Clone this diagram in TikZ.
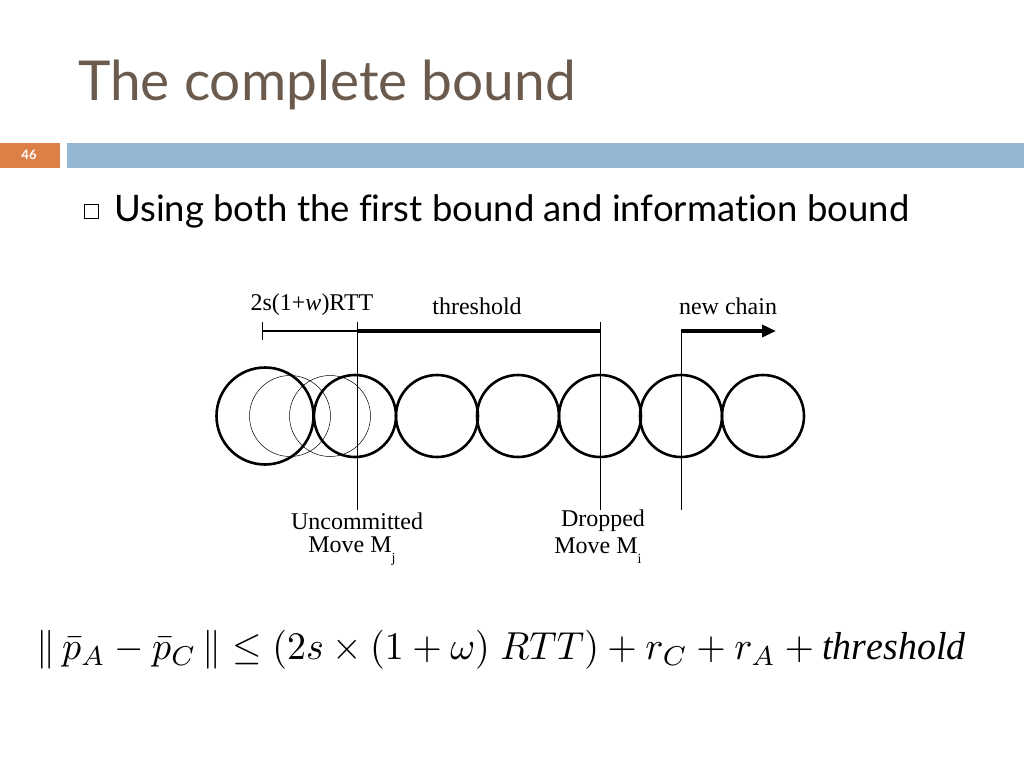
\documentclass[tikz,border=0pt]{standalone}
\usepackage{fontspec}
\setmainfont{Liberation Serif}
\newfontfamily\slidefont[Ligatures=NoCommon]{Lato}
\usetikzlibrary{arrows.meta}
\definecolor{titlec}{HTML}{6B5B4E}
\definecolor{barblue}{HTML}{94B6D2}
\definecolor{barorange}{HTML}{DD8047}
\tikzset{
  thick circ/.style={draw,line width=2.6pt,circle,minimum size=82pt,inner sep=0pt},
  thin circ/.style={draw,line width=0.5pt,circle,minimum size=81pt,inner sep=0pt},
  vline/.style={line width=0.6pt},
  lbl/.style={font=\fontsize{24}{28}\selectfont,inner sep=0pt},
}
\begin{document}
\begin{tikzpicture}[x=1pt,y=-1pt]
\useasboundingbox (0,0) rectangle (1024,768);
\node[anchor=west,text=titlec,font=\slidefont\fontsize{55}{60}\selectfont,inner sep=0pt] (title) at (78,85) {The complete bound};
\fill[barorange] (0,143) rectangle (60,168);
\node[text=white,font=\slidefont\bfseries\fontsize{13}{14}\selectfont] (num) at (29,155) {46};
\fill[barblue] (67,143) rectangle (1024,168);
\draw[line width=0.8pt] (84,204) rectangle (98,218);
\node[anchor=west,font=\slidefont\fontsize{36.5}{40}\selectfont,inner sep=0pt] (bul) at (114,211) {Using both the first bound and information bound};
% circles
\node[draw,line width=2.6pt,circle,minimum size=97pt,inner sep=0pt] (c0) at (265,416) {};
\node[thin circ] (t1) at (290,416) {};
\node[thin circ] (t2) at (330,416) {};
\foreach \i/\x in {1/355,2/437,3/518,4/600,5/681,6/763}
  \node[thick circ] (c\i) at (\x,416) {};
% lines
\coordinate (l0) at (262,322); \coordinate (l0b) at (262,340);
\coordinate (a) at (357,322); \coordinate (ab) at (357,510);
\coordinate (b) at (600,322); \coordinate (bb) at (600,510);
\coordinate (c) at (681,331); \coordinate (cb) at (681,510);
\coordinate (e) at (776,331);
\draw[vline] (l0) -- (l0b);
\draw[vline] (a) -- (ab);
\draw[vline] (b) -- (bb);
\draw[vline] (c) -- (cb);
\draw[line width=2.2pt] (262,331) -- (357,331);
\draw[line width=3.5pt] (357,331) -- (600,331);
\draw[line width=3.5pt,-{Triangle[length=14pt,width=12pt]}] (c) -- (e);
\node[lbl] (rtt) at (312,305) {2s(1+\textit{w})RTT};
\node[lbl] (thr) at (477,306) {threshold};
\node[lbl] (nc) at (728,306) {new chain};
\node[lbl] (un1) at (357,521) {Uncommitted};
\node[lbl] (un2) at (352,551) {Move M\raisebox{-10pt}{\fontsize{14}{14}\selectfont j}};
\node[lbl] (dr1) at (603,521) {Dropped};
\node[lbl] (dr2) at (598,551) {Move M\raisebox{-10pt}{\fontsize{14}{14}\selectfont i}};
\node[anchor=west,inner sep=0pt,xscale=3.79,yscale=3.9] (form) at (36,650) {$\|\,\bar p_A-\bar p_C\,\|\le(2s\times(1+\omega)\;RTT)+r_C+r_A+\mathit{threshold}$};
\end{tikzpicture}
\end{document}
